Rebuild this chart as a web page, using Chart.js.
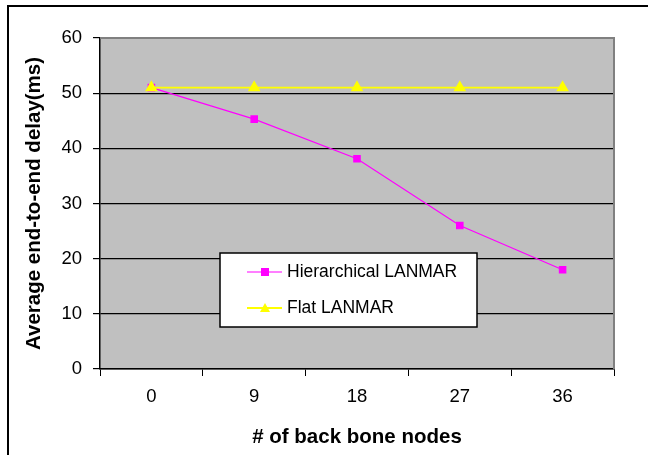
<!DOCTYPE html>
<html>
<head>
<meta charset="utf-8">
<script src="https://cdn.jsdelivr.net/npm/chart.js@4/dist/chart.umd.min.js"></script>
<style>
  html, body { margin: 0; padding: 0; background: #fff; }
  #wrap { width: 648px; height: 455px; }
</style>
</head>
<body>
<div id="wrap"><canvas id="delayChart" width="648" height="455"></canvas></div>
<script>
// chart data
var nodeCounts = ['0', '9', '18', '27', '36'];
var hierarchicalDelay = [51, 45.3, 38.1, 26, 18];
var flatDelay = [51, 51, 51, 51, 51];
var yTicks = [0, 10, 20, 30, 40, 50, 60];

var FONT = '"Liberation Sans", Arial, sans-serif';

// gray plot background, gray top/right frame, outer picture border
var plotFrame = {
    id: 'plotFrame',
    beforeDraw: function(chart) {
        var c = chart.ctx, a = chart.chartArea;
        c.save();
        c.fillStyle = '#c0c0c0';
        c.fillRect(a.left, a.top, a.right - a.left, a.bottom - a.top);
        c.restore();
    },
    beforeDatasetsDraw: function(chart) {
        var c = chart.ctx, a = chart.chartArea;
        c.save();
        c.strokeStyle = '#808080';
        c.lineWidth = 2;
        c.beginPath();
        c.moveTo(a.left, a.top);
        c.lineTo(a.right, a.top);
        c.lineTo(a.right, a.bottom);
        c.stroke();
        c.restore();
    },
    afterDraw: function(chart) {
        var c = chart.ctx;
        c.save();
        c.strokeStyle = '#000';
        c.lineWidth = 2;
        c.beginPath();
        c.moveTo(8, 455);
        c.lineTo(8, 6);
        c.lineTo(648, 6);
        c.stroke();
        c.restore();
    }
};

// boxed legend sitting inside the plot area
var boxLegend = {
    id: 'boxLegend',
    afterDatasetsDraw: function(chart) {
        var c = chart.ctx;
        var x = 220, y = 253, w = 257, h = 74;
        c.save();
        c.fillStyle = '#fff';
        c.fillRect(x, y, w, h);
        c.strokeStyle = '#000';
        c.lineWidth = 1.5;
        c.strokeRect(x, y, w, h);
        c.font = '17.5px ' + FONT;
        c.textBaseline = 'middle';
        chart.data.datasets.forEach(function(ds, i) {
            var ry = 272 + i * 36;
            c.strokeStyle = ds.borderColor;
            c.lineWidth = ds.borderWidth;
            c.beginPath();
            c.moveTo(247, ry);
            c.lineTo(282, ry);
            c.stroke();
            c.fillStyle = ds.pointBackgroundColor;
            c.beginPath();
            if (ds.pointStyle === 'rect') {
                c.rect(265 - 4, ry - 4, 8, 8);
            } else {
                c.moveTo(265, ry - 5);
                c.lineTo(270, ry + 4);
                c.lineTo(260, ry + 4);
                c.closePath();
            }
            c.fill();
            c.fillStyle = '#000';
            c.fillText(ds.label, 287, ry);
        });
        c.restore();
    }
};

document.addEventListener('DOMContentLoaded', function() {
    var ctx = document.getElementById('delayChart').getContext('2d');

    new Chart(ctx, {
        type: 'line',
        data: {
            labels: nodeCounts,
            datasets: [
                {
                    label: 'Hierarchical LANMAR',
                    data: hierarchicalDelay,
                    borderColor: '#ff00ff',
                    borderWidth: 1.2,
                    pointStyle: 'rect',
                    pointRadius: 4.5,
                    pointBackgroundColor: '#ff00ff',
                    pointBorderColor: '#ff00ff',
                    tension: 0,
                    order: 2
                },
                {
                    label: 'Flat LANMAR',
                    data: flatDelay,
                    borderColor: '#ffff00',
                    borderWidth: 1.8,
                    pointStyle: 'triangle',
                    pointRadius: 5.5,
                    pointBackgroundColor: '#ffff00',
                    pointBorderColor: '#ffff00',
                    tension: 0,
                    order: 1
                }
            ]
        },
        options: {
            responsive: false,
            animation: false,
            layout: { padding: { left: 0, right: 34, top: 38, bottom: 0 } },
            plugins: {
                legend: { display: false },
                tooltip: { enabled: false }
            },
            scales: {
                x: {
                    type: 'category',
                    offset: true,
                    afterFit: function(s) { s.height = 86; },
                    grid: {
                        offset: true,
                        drawOnChartArea: false,
                        drawTicks: true,
                        tickLength: 7,
                        color: '#000'
                    },
                    border: { color: '#000', width: 1.5 },
                    ticks: {
                        color: '#000',
                        padding: 10,
                        font: { family: FONT, size: 18.5 }
                    },
                    title: {
                        display: true,
                        text: '# of back bone nodes',
                        color: '#000',
                        font: { family: FONT, size: 20.5, weight: 'bold' },
                        padding: { top: 0, bottom: 5 }
                    }
                },
                y: {
                    min: 0,
                    max: 60,
                    afterFit: function(s) { s.width = 100; },
                    afterBuildTicks: function(s) {
                        s.ticks = yTicks.map(function(v) { return { value: v }; });
                    },
                    grid: {
                        color: function(g) { return g.tick && g.tick.value === 60 ? '#808080' : '#000'; },
                        lineWidth: 1.2,
                        tickLength: 7,
                        tickColor: '#000'
                    },
                    border: { color: '#000', width: 1.5 },
                    ticks: {
                        color: '#000',
                        padding: 11,
                        font: { family: FONT, size: 18.5 }
                    },
                    title: {
                        display: true,
                        text: 'Average end-to-end delay(ms)',
                        color: '#000',
                        font: { family: FONT, size: 20.5, weight: 'bold' },
                        padding: { top: 22, bottom: 0 }
                    }
                }
            }
        },
        plugins: [plotFrame, boxLegend]
    });
});
</script>
</body>
</html>
